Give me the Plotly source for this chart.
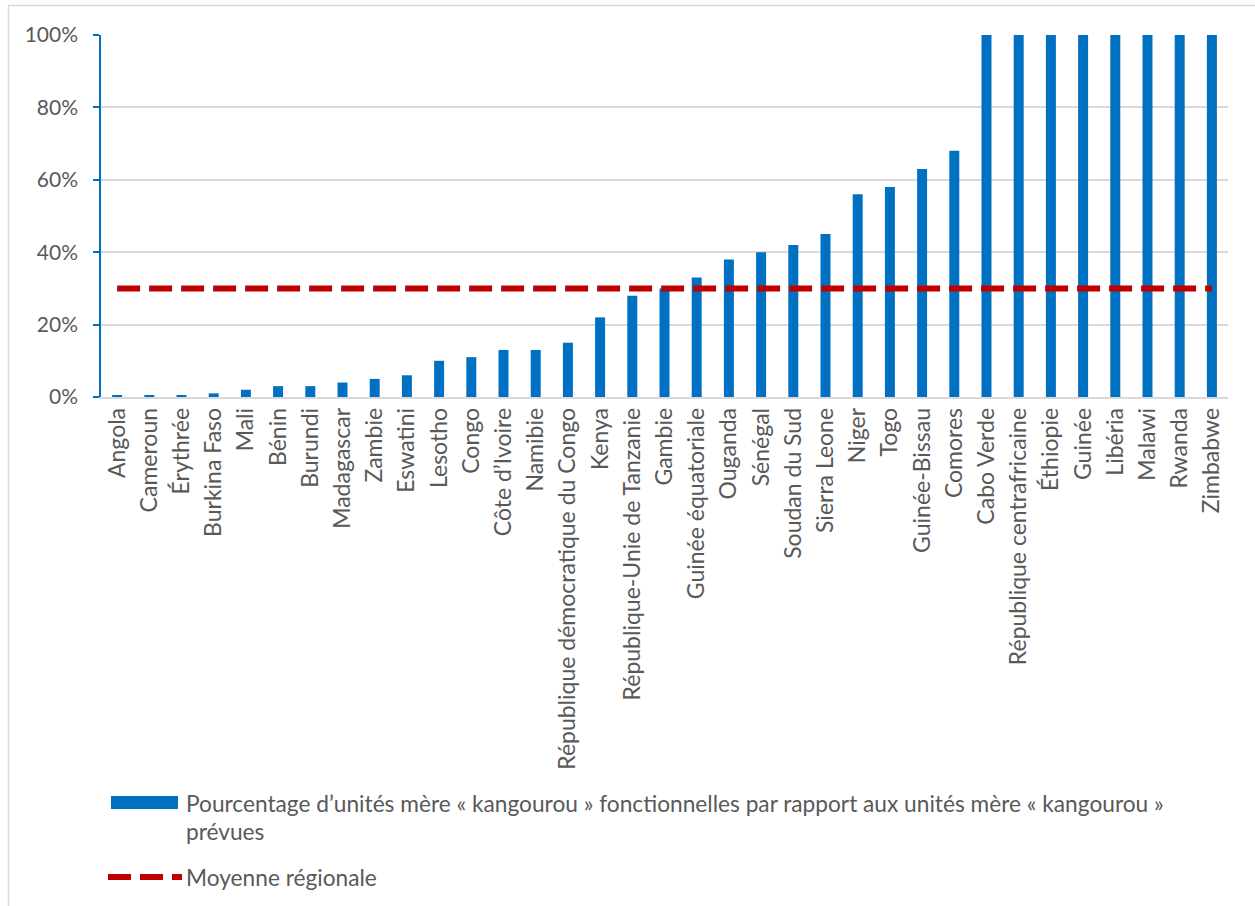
import plotly.graph_objects as go

# Countries, sorted by share of functional kangaroo mother care units
countries = [
    "Angola", "Cameroun", "Érythrée", "Burkina Faso", "Mali", "Bénin", "Burundi",
    "Madagascar", "Zambie", "Eswatini", "Lesotho", "Congo", "Côte d’Ivoire",
    "Namibie", "République démocratique du Congo", "Kenya",
    "République-Unie de Tanzanie", "Gambie", "Guinée équatoriale", "Ouganda",
    "Sénégal", "Soudan du Sud", "Sierra Leone", "Niger", "Togo", "Guinée-Bissau",
    "Comores", "Cabo Verde", "République centrafricaine", "Éthiopie", "Guinée",
    "Libéria", "Malawi", "Rwanda", "Zimbabwe",
]

# Share of planned units that are functional (fraction)
functional_share = [
    0.003, 0.003, 0.003, 0.01, 0.02, 0.03, 0.03,
    0.04, 0.05, 0.06, 0.10, 0.11, 0.13,
    0.13, 0.15, 0.22,
    0.28, 0.30, 0.33, 0.38,
    0.40, 0.42, 0.45, 0.56, 0.58, 0.63,
    0.68, 1.00, 1.00, 1.00, 1.00,
    1.00, 1.00, 1.00, 1.00,
]

regional_average = 0.30

y_ticks = [0, 0.2, 0.4, 0.6, 0.8, 1.0]
y_tick_labels = ["0%", "20%", "40%", "60%", "80%", "100%"]

bar_label_lines = [
    "Pourcentage d’unités mère « kangourou » fonctionnelles par rapport aux unités mère « kangourou »",
    "prévues",
]
line_label = "Moyenne régionale"

BLUE = "#0070C0"
RED = "#C00000"
GRID = "#D9D9D9"
TEXT = "#595959"
FONT = "Lato"
LEGEND_SIZE = 22.7

fig = go.Figure()

fig.add_trace(go.Bar(
    x=countries,
    y=functional_share,
    marker=dict(color=BLUE, line=dict(width=0)),
    showlegend=False,
    hoverinfo="x+y",
))

fig.add_trace(go.Scatter(
    x=countries,
    y=[regional_average] * len(countries),
    mode="lines",
    line=dict(color=RED, width=6, dash="23px,9px"),
    showlegend=False,
))

# Plot area in pixels: x 101..1228, y 35..397
L, R, T, B = 101, 1228, 35, 397
W, H = R - L, B - T


def px_x(p):
    return (p - L) / W


def px_y(p):
    return (B - p) / H


shapes = [
    # chart border
    dict(type="rect", xref="paper", yref="paper",
         x0=px_x(8.5), x1=px_x(1262), y0=px_y(912), y1=px_y(5.5),
         line=dict(color=GRID, width=1.5), layer="below"),
    # legend swatch: bars
    dict(type="rect", xref="paper", yref="paper",
         x0=px_x(111), x1=px_x(178), y0=px_y(809), y1=px_y(796),
         fillcolor=BLUE, line=dict(width=0)),
    # legend swatch: average line
    dict(type="line", xref="paper", yref="paper",
         x0=px_x(108), x1=px_x(182), y0=px_y(877), y1=px_y(877),
         line=dict(color=RED, width=6, dash="23px,9px")),
]

annotations = [
    dict(xref="paper", yref="paper", x=px_x(184), y=px_y(803),
         xanchor="left", yanchor="middle", align="left", showarrow=False,
         text=bar_label_lines[0], font=dict(family=FONT, size=LEGEND_SIZE, color=TEXT)),
    dict(xref="paper", yref="paper", x=px_x(184), y=px_y(831),
         xanchor="left", yanchor="middle", align="left", showarrow=False,
         text=bar_label_lines[1], font=dict(family=FONT, size=LEGEND_SIZE, color=TEXT)),
    dict(xref="paper", yref="paper", x=px_x(184), y=px_y(877),
         xanchor="left", yanchor="middle", align="left", showarrow=False,
         text=line_label, font=dict(family=FONT, size=LEGEND_SIZE, color=TEXT)),
]

fig.update_layout(
    width=1255, height=906,
    margin=dict(l=L, r=1255 - R, t=T, b=906 - B, autoexpand=False),
    paper_bgcolor="white",
    plot_bgcolor="white",
    bargap=0.69,
    font=dict(family=FONT, size=20, color=TEXT),
    shapes=shapes,
    annotations=annotations,
    xaxis=dict(
        type="category",
        tickangle=-90,
        tickfont=dict(family=FONT, size=23, color=TEXT),
        showline=True, linecolor=GRID, linewidth=1.5,
        ticks="", showgrid=False,
        automargin=False,
    ),
    yaxis=dict(
        range=[0, 1.0],
        tickvals=y_ticks,
        ticktext=y_tick_labels,
        tickfont=dict(family=FONT, size=21, color=TEXT),
        ticklabelstandoff=11,
        showgrid=True, gridcolor=GRID, gridwidth=1.5,
        zeroline=False,
        showline=True, linecolor=BLUE, linewidth=1.5,
        ticks="outside", ticklen=6, tickcolor=BLUE, tickwidth=1.5,
        automargin=False,
    ),
)

fig.write_html("out.html")
